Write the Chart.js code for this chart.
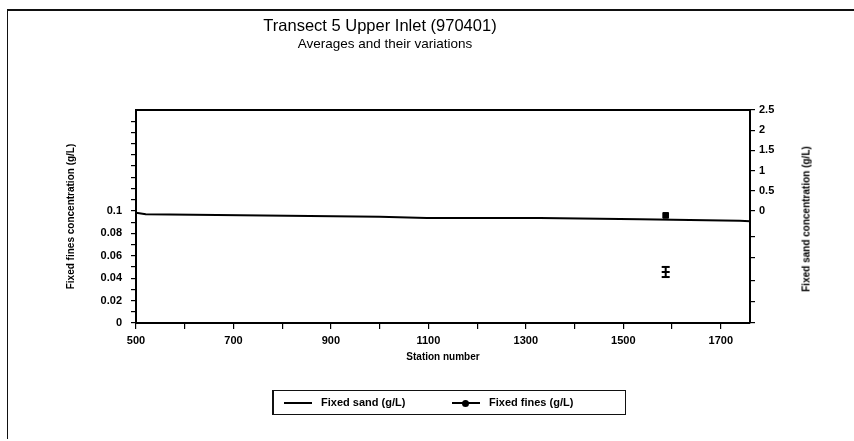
<!DOCTYPE html>
<html>
<head>
<meta charset="utf-8">
<script src="https://cdn.jsdelivr.net/npm/chart.js@4.4.0/dist/chart.umd.min.js"></script>
<style>
  body { margin: 0; background: #fff; font-family: Arial, "Liberation Sans", sans-serif; }
  #wrap { position: relative; width: 854px; height: 441px; overflow: hidden; }
  #frame { position: absolute; left: 7px; top: 9px; width: 850px; height: 428px;
           border-top: 2px solid #111; border-left: 1.5px solid #111; }
  #title { position: absolute; left: 230px; width: 300px; top: 15px; text-align: center;
           font-size: 16.5px; line-height: 20px; color: #000; }
  #subtitle { position: absolute; left: 235px; width: 300px; top: 36px; text-align: center;
              font-size: 13.5px; line-height: 16px; color: #000; }
  #rtitle { position: absolute; left: 806px; top: 219px; transform: translate(-50%, -50%) rotate(-90deg);
            white-space: nowrap; font-size: 10px; font-weight: 600; color: #000; }
  #legend { position: absolute; left: 272px; top: 390px; width: 351px; height: 23px;
            border: 1.5px solid #111; border-left-width: 2.5px; font-size: 11px; font-weight: bold; }
  .item { position: absolute; top: 5px; white-space: nowrap; }
  .sw { display: inline-block; width: 28px; height: 0; border-top: 2px solid #000;
        vertical-align: middle; margin-right: 9px; position: relative; }
  .dot::after { content: ""; position: absolute; left: 10px; top: -4.5px; width: 7px; height: 7px;
                background: #000; border-radius: 50%; }
  canvas { position: absolute; left: 0; top: 0; }
</style>
</head>
<body>
<div id="wrap">
  <div id="frame"></div>
  <canvas id="myChart" width="854" height="441"></canvas>
  <div id="title">Transect 5 Upper Inlet (970401)</div>
  <div id="subtitle">Averages and their variations</div>
  <div id="rtitle">Fixed sand concentration (g/L)</div>
  <div id="legend">
    <span class="item" style="left:10px"><span class="sw"></span>Fixed sand (g/L)</span>
    <span class="item" style="left:178px"><span class="sw dot"></span>Fixed fines (g/L)</span>
  </div>
</div>
<script>
// station numbers and values
const sandStations = [500, 520, 666, 857, 1000, 1097, 1329, 1534, 1739, 1760];
const sandValues = [-0.04, -0.08, -0.1, -0.12, -0.14, -0.17, -0.17, -0.2, -0.24, -0.25];

const finesStations = [1587];
const finesValues = [0.096];
const finesVariation = [0.041, 0.0455, 0.05];

const xTicks = [500, 600, 700, 800, 900, 1000, 1100, 1200, 1300, 1400, 1500, 1600, 1700];
const xLabels = [500, 700, 900, 1100, 1300, 1500, 1700];
const leftTicks = [0, 0.01, 0.02, 0.03, 0.04, 0.05, 0.06, 0.07, 0.08, 0.09, 0.1,
                   0.11, 0.12, 0.13, 0.14, 0.15, 0.16, 0.17, 0.18];
const leftLabels = ['0', '0.02', '0.04', '0.06', '0.08', '0.1'];
const rightTicks = [2.5, 2, 1.5, 1, 0.5, 0, -0.64, -1.14, -1.71, -2.25, -2.77];
const rightLabels = ['2.5', '2', '1.5', '1', '0.5', '0'];

function setTicks(values) {
    return function(scale) {
        scale.ticks = values.map(v => ({ value: v }));
    };
}

function labelFor(list) {
    return function(value) {
        const s = String(Math.round(value * 10000) / 10000);
        return list.map(String).includes(s) ? s : '';
    };
}

const tickFont = { family: 'Arial', size: 11, weight: 'bold' };
const ink = '#000';

const ctx = document.getElementById('myChart').getContext('2d');
new Chart(ctx, {
    type: 'line',
    data: {
        datasets: [{
            label: 'Fixed sand (g/L)',
            yAxisID: 'yR',
            data: sandStations.map((s, i) => ({ x: s, y: sandValues[i] })),
            borderColor: ink,
            borderWidth: 2,
            pointRadius: 0,
            tension: 0
        }, {
            label: 'Fixed fines (g/L)',
            yAxisID: 'y',
            data: finesStations.map((s, i) => ({ x: s, y: finesValues[i] })),
            showLine: false,
            pointStyle: 'rect',
            pointRadius: 4,
            backgroundColor: ink,
            borderColor: ink
        }, {
            label: 'variation',
            yAxisID: 'y',
            data: finesVariation.map(v => ({ x: finesStations[0], y: v })),
            borderColor: ink,
            borderWidth: 2,
            pointStyle: 'line',
            pointRadius: 4,
            pointBorderWidth: 2,
            backgroundColor: ink
        }]
    },
    options: {
        responsive: false,
        animation: false,
        layout: { padding: { left: 61, right: 36, top: 110, bottom: 74 } },
        plugins: {
            legend: { display: false },
            tooltip: { enabled: false }
        },
        scales: {
            x: {
                type: 'linear',
                position: 'bottom',
                min: 500,
                max: 1760,
                afterBuildTicks: setTicks(xTicks),
                afterFit: s => { s.height = 44; },
                ticks: { color: ink, font: tickFont, padding: 5, maxRotation: 0, autoSkip: false,
                         callback: labelFor(xLabels) },
                grid: { drawOnChartArea: false, color: ink, tickLength: 6, lineWidth: 1.2 },
                border: { color: ink, width: 2 },
                title: { display: true, text: 'Station number', color: ink,
                         font: { family: 'Arial', size: 10, weight: 'bold' }, padding: { top: 0, bottom: 4 } }
            },
            xTop: {
                type: 'linear',
                position: 'top',
                min: 500,
                max: 1760,
                afterFit: s => { s.height = 0; },
                ticks: { display: false },
                grid: { display: false, drawTicks: false },
                border: { color: ink, width: 2 }
            },
            y: {
                position: 'left',
                min: 0,
                max: 0.19,
                afterBuildTicks: setTicks(leftTicks),
                afterFit: s => { s.width = 75; },
                ticks: { color: ink, font: tickFont, padding: 9, autoSkip: false,
                         callback: labelFor(leftLabels) },
                grid: { drawOnChartArea: false, color: ink, tickLength: 5, lineWidth: 1.2 },
                border: { color: ink, width: 2 },
                title: { display: true, text: 'Fixed fines concentration (g/L)', color: ink,
                         font: { family: 'Arial', size: 10, weight: '600' } }
            },
            yR: {
                position: 'right',
                min: -2.77,
                max: 2.5,
                afterBuildTicks: setTicks(rightTicks),
                afterFit: s => { s.width = 68; },
                ticks: { color: ink, font: tickFont, padding: 4, autoSkip: false,
                         callback: labelFor(rightLabels) },
                grid: { drawOnChartArea: false, color: ink, tickLength: 5, lineWidth: 1.2 },
                border: { color: ink, width: 2 }
            }
        }
    }
});
</script>
</body>
</html>
